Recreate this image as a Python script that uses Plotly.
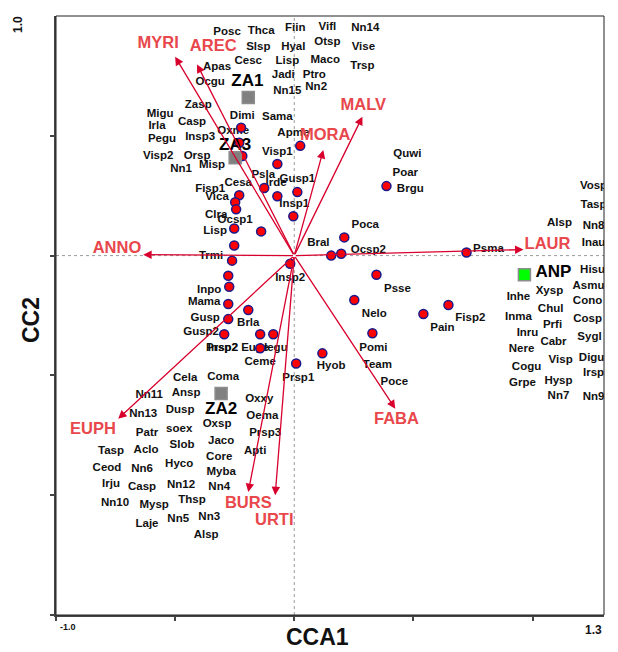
import plotly.graph_objects as go

# ---------------- data (CCA scores) ----------------
# environmental variables: arrow tips and label positions
env_names = ["MYRI", "AREC", "MALV", "MORA", "LAUR", "ANNO", "EUPH", "BURS", "URTI", "FABA"]
env_x = [-0.500, -0.408, 0.286, 0.122, 0.962, -0.634, -0.739, -0.193, -0.080, 0.424]
env_y = [0.830, 0.798, 0.580, 0.441, 0.025, 0.004, -0.681, -0.987, -1.000, -0.639]
env_lab_x = [-0.571, -0.340, 0.290, 0.130, 1.063, -0.744, -0.845, -0.193, -0.084, 0.429]
env_lab_y = [0.882, 0.870, 0.626, 0.500, 0.046, 0.029, -0.727, -1.038, -1.109, -0.685]

# sample groups (centroids)
grp_names = ["ZA1", "ZA3", "ZA2", "ANP"]
grp_x = [-0.193, -0.248, -0.307, 0.966]
grp_y = [0.660, 0.408, -0.576, -0.080]
grp_lab_x = [-0.197, -0.248, -0.307, 1.088]
grp_lab_y = [0.727, 0.458, -0.643, -0.071]

# species scores drawn as symbols
pt_x = [-0.223, -0.231, -0.218, -0.071, -0.231, -0.126, -0.071, 0.013, -0.248, -0.244,
        -0.004, -0.252, -0.139, -0.252, -0.261, -0.017, 0.025, 0.387, 0.210, 0.155,
        0.197, 0.723, 0.647, 0.542, 0.345, 0.252, 0.328, 0.118, 0.008, -0.277,
        -0.273, -0.277, -0.193, -0.277, -0.294, -0.143, -0.088, -0.143]
pt_y = [0.534, 0.471, 0.416, 0.382, 0.252, 0.282, 0.248, 0.265, 0.223, 0.193,
        0.164, 0.113, 0.101, 0.042, -0.021, -0.034, 0.458, 0.290, 0.076, 0.000,
        0.008, 0.013, -0.206, -0.244, -0.080, -0.185, -0.324, -0.408, -0.450, -0.084,
        -0.130, -0.202, -0.227, -0.265, -0.328, -0.328, -0.328, -0.387]

# species labels
sp_names = ["Posc", "Thca", "Fiin", "Vifl", "Nn14", "Slsp", "Hyal", "Otsp", "Vise", "Cesc",
            "Lisp", "Maco", "Trsp", "Apas", "Ocgu", "Jadi", "Ptro", "Nn15", "Nn2", "Zasp",
            "Migu", "Dimi", "Sama", "Casp", "Irla", "Oxme", "Apme", "Insp3", "Pegu", "Visp1",
            "Quwi", "Visp2", "Orsp", "Misp", "Nn1", "Poar", "Psla", "Gusp1", "Cesa", "Irde",
            "Vosp", "Fisp1", "Brgu", "Vica", "Insp1", "Tasp", "Clra", "Ocsp1", "Alsp", "Poca",
            "Nn8", "Lisp", "Bral", "Inau", "Psma", "Ocsp2", "Trmi", "Hisu", "Insp2", "Asmu",
            "Psse", "Inpo", "Xysp", "Inhe", "Cono", "Mama", "Chul", "Nelo", "Inma", "Fisp2",
            "Gusp", "Cosp", "Brla", "Prfi", "Pain", "Gusp2", "Inru", "Sygl", "Cabr", "Pomi",
            "Prsp2", "Insp2", "Eupe", "Hegu", "Nere", "Digu", "Visp", "Ceme", "Team", "Hyob",
            "Cogu", "Irsp", "Prsp1", "Coma", "Cela", "Hysp", "Poce", "Grpe", "Ansp", "Nn11",
            "Nn7", "Nn9", "Oxxy", "Dusp", "Nn13", "Oema", "Oxsp", "soex", "Patr", "Prsp3",
            "Jaco", "Slob", "Aclo", "Tasp", "Apti", "Core", "Hyco", "Ceod", "Nn6", "Myba",
            "Irju", "Nn12", "Casp", "Nn4", "Thsp", "Nn10", "Mysp", "Nn3", "Nn5", "Laje",
            "Alsp"]
sp_x = [-0.282, -0.139, 0.004, 0.139, 0.298, -0.151, -0.004, 0.139, 0.290, -0.193,
        -0.029, 0.130, 0.286, -0.324, -0.353, -0.046, 0.084, -0.029, 0.092, -0.403,
        -0.563, -0.218, -0.071, -0.429, -0.576, -0.256, -0.004, -0.395, -0.555, -0.071,
        0.475, -0.571, -0.408, -0.345, -0.475, 0.466, -0.130, 0.013, -0.235, -0.076,
        1.256, -0.353, 0.487, -0.324, 0.000, 1.256, -0.328, -0.248, 1.113, 0.298,
        1.256, -0.332, 0.101, 1.256, 0.815, 0.311, -0.349, 1.252, -0.017, 1.235,
        0.433, -0.357, 1.071, 0.941, 1.231, -0.378, 1.076, 0.336, 0.941, 0.739,
        -0.374, 1.231, -0.193, 1.084, 0.622, -0.391, 0.979, 1.239, 1.088, 0.332,
        -0.303, -0.300, -0.164, -0.088, 0.954, 1.248, 1.118, -0.143, 0.349, 0.155,
        0.975, 1.256, 0.017, -0.298, -0.458, 1.109, 0.420, 0.958, -0.454, -0.609,
        1.109, 1.256, -0.147, -0.479, -0.634, -0.134, -0.324, -0.483, -0.618, -0.122,
        -0.307, -0.471, -0.622, -0.769, -0.164, -0.315, -0.483, -0.786, -0.639, -0.307,
        -0.769, -0.475, -0.639, -0.315, -0.429, -0.752, -0.588, -0.357, -0.487, -0.618,
        -0.370]
sp_y = [0.933, 0.937, 0.950, 0.954, 0.950, 0.870, 0.870, 0.891, 0.870, 0.811,
        0.811, 0.815, 0.790, 0.786, 0.723, 0.752, 0.752, 0.685, 0.702, 0.630,
        0.592, 0.584, 0.580, 0.555, 0.542, 0.521, 0.513, 0.496, 0.487, 0.433,
        0.424, 0.416, 0.416, 0.378, 0.361, 0.345, 0.336, 0.319, 0.303, 0.303,
        0.290, 0.277, 0.277, 0.244, 0.214, 0.210, 0.168, 0.147, 0.134, 0.126,
        0.122, 0.101, 0.050, 0.050, 0.029, 0.021, -0.004, -0.059, -0.092, -0.126,
        -0.139, -0.143, -0.147, -0.172, -0.189, -0.193, -0.223, -0.244, -0.256, -0.261,
        -0.261, -0.265, -0.282, -0.290, -0.303, -0.319, -0.324, -0.340, -0.361, -0.387,
        -0.387, -0.387, -0.387, -0.387, -0.391, -0.429, -0.437, -0.445, -0.458, -0.462,
        -0.466, -0.492, -0.513, -0.508, -0.513, -0.525, -0.529, -0.534, -0.576, -0.584,
        -0.588, -0.592, -0.597, -0.647, -0.660, -0.668, -0.702, -0.723, -0.739, -0.739,
        -0.773, -0.790, -0.811, -0.815, -0.815, -0.840, -0.870, -0.887, -0.891, -0.903,
        -0.954, -0.958, -0.966, -0.966, -1.021, -1.034, -1.042, -1.092, -1.101, -1.122,
        -1.168]

x_range = [-1.0, 1.3]
y_range = [-1.5, 1.0]
x_ticks = [-1.0, -0.5, 0.0, 0.5, 1.0]
y_ticks = [-1.5, -1.0, -0.5, 0.0, 0.5]

# ---------------- styling ----------------
FONT = "Liberation Sans, Arial, sans-serif"
LAB_RED = "#E8474C"
ARROW_RED = "#D8002C"

fig = go.Figure()

# species labels
fig.add_trace(go.Scatter(
    x=sp_x, y=sp_y, mode="text", text=sp_names, textposition="middle center",
    textfont=dict(family=FONT, size=11.5, color="#111111", weight="bold"),
    hoverinfo="skip", showlegend=False))

# species symbols
fig.add_trace(go.Scatter(
    x=pt_x, y=pt_y, mode="markers",
    marker=dict(size=9, color="#FF0000", line=dict(color="#1A1A8C", width=1.5)),
    hoverinfo="skip", showlegend=False))

# group centroids
fig.add_trace(go.Scatter(
    x=grp_x, y=grp_y, mode="markers",
    marker=dict(symbol="square", size=12,
                color=["#808080", "#808080", "#808080", "#00FF00"],
                line=dict(color="#8C8C8C", width=1.5)),
    hoverinfo="skip", showlegend=False))
fig.add_trace(go.Scatter(
    x=grp_lab_x, y=grp_lab_y, mode="text", text=grp_names, textposition="middle center",
    textfont=dict(family=FONT, size=17, color="#000000", weight="bold"),
    hoverinfo="skip", showlegend=False))

# environmental labels
fig.add_trace(go.Scatter(
    x=env_lab_x, y=env_lab_y, mode="text", text=env_names, textposition="middle center",
    textfont=dict(family=FONT, size=16.5, color=LAB_RED, weight="bold"),
    hoverinfo="skip", showlegend=False))

# arrows from origin to each environmental variable
annotations = []
for ex, ey in zip(env_x, env_y):
    annotations.append(dict(
        x=ex, y=ey, xref="x", yref="y", ax=0, ay=0, axref="x", ayref="y",
        text="", showarrow=True, arrowhead=2, arrowsize=1.3, arrowwidth=1.3,
        arrowcolor=ARROW_RED, standoff=0, startstandoff=0))

# axis end labels and titles
annotations += [
    dict(x=x_range[0], y=0, xref="x", yref="paper", text="-1.0", showarrow=False,
         xanchor="left", yanchor="top", xshift=2, yshift=-5,
         font=dict(family=FONT, size=9, color="#111", weight="bold")),
    dict(x=x_range[1], y=0, xref="x", yref="paper", text="1.3", showarrow=False,
         xanchor="right", yanchor="top", xshift=0, yshift=-6,
         font=dict(family=FONT, size=12, color="#111", weight="bold")),
    dict(x=0, y=y_range[1], xref="paper", yref="y", text="1.0", showarrow=False,
         xanchor="center", yanchor="middle", xshift=-38, yshift=-9, textangle=-90,
         font=dict(family=FONT, size=12, color="#111", weight="bold")),
    dict(x=0.478, y=0, xref="paper", yref="paper", text="CCA1", showarrow=False,
         xanchor="center", yanchor="middle", yshift=-22,
         font=dict(family=FONT, size=23, color="#111", weight="bold")),
    dict(x=0, y=0.4925, xref="paper", yref="paper", text="CC2", showarrow=False,
         xanchor="center", yanchor="middle", xshift=-25, textangle=-90,
         font=dict(family=FONT, size=23, color="#111", weight="bold")),
]

shapes = [
    dict(type="line", xref="x", yref="y", x0=0, x1=0, y0=y_range[0], y1=y_range[1],
         line=dict(color="#9A9A9A", width=1, dash="dot"), layer="below"),
    dict(type="line", xref="x", yref="y", x0=x_range[0], x1=x_range[1], y0=0, y1=0,
         line=dict(color="#9A9A9A", width=1, dash="dot"), layer="below"),
    dict(type="rect", xref="paper", yref="paper", x0=0, x1=1, y0=0, y1=1,
         line=dict(color="#222", width=1)),
]

# page body adds an 8px offset, so the figure is 8px smaller and margins shifted
fig.update_layout(
    width=610, height=644,
    margin=dict(l=48, r=14, t=8, b=37),
    paper_bgcolor="white", plot_bgcolor="white",
    showlegend=False,
    annotations=annotations, shapes=shapes,
    xaxis=dict(range=x_range, showgrid=False, zeroline=False, showline=True,
               linecolor="#444", linewidth=2, ticks="outside", ticklen=4,
               tickcolor="#444", tickwidth=1.5, tickvals=x_ticks, showticklabels=False),
    yaxis=dict(range=y_range, showgrid=False, zeroline=False, showline=True,
               linecolor="#444", linewidth=2, ticks="outside", ticklen=4,
               tickcolor="#444", tickwidth=1.5, tickvals=y_ticks, showticklabels=False),
)

fig.write_html("out.html")
